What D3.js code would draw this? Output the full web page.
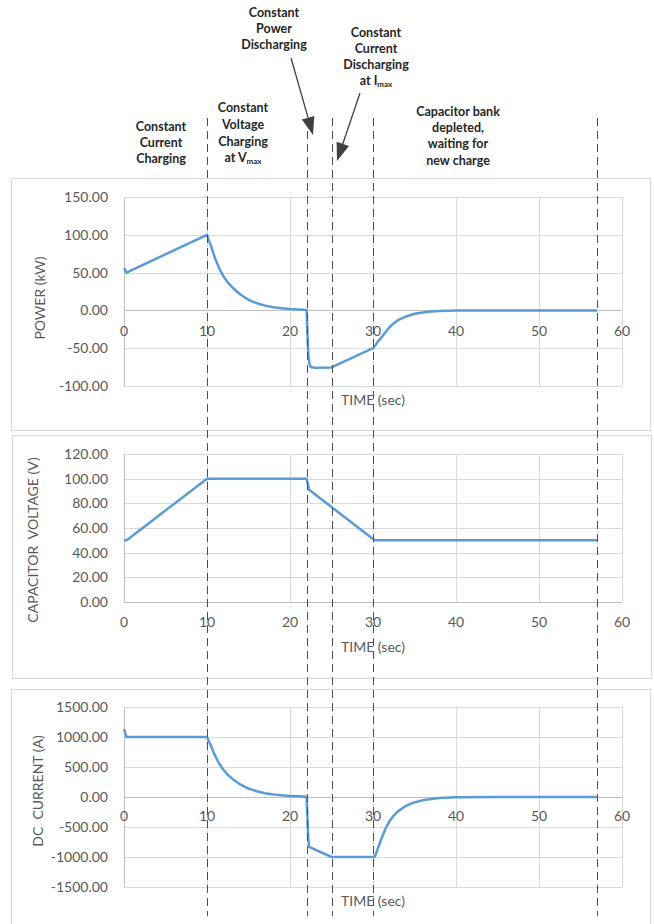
<!DOCTYPE html>
<html><head><meta charset="utf-8">
<script src="https://cdn.jsdelivr.net/npm/d3@7"></script>
<style>
html,body{margin:0;padding:0;background:#fff;}
svg{display:block;font-family:Lato,"Open Sans",sans-serif;}
</style></head>
<body>
<svg id="c" width="654" height="924"></svg>
<script>
// ---- data ----
const xTicks = [0,10,20,30,40,50,60];
const phaseTimes = [10,22,25,30,57];

const powerT = [0,0.3,10,10.25,10.5,10.75,11,11.5,12,12.5,13,14,15,16,17,18,19,20,21,22,22.1,22.2,22.35,22.5,23,25,30,30.3,30.6,31,31.5,32,32.5,33,34,35,36,37,38,40,45,57];
const powerV = [56,50,100,92,85,76,68,55,45,37,31,21,14,9.5,6.3,4.2,2.8,1.8,1.1,0.6,-30,-58,-71,-75,-76,-75.5,-50,-46,-41,-36,-29,-22,-17,-13,-8,-4.5,-2.7,-1.5,-0.8,-0.2,0,0];
const powerTicks = [-100,-50,0,50,100,150];

const voltT = [0,0.4,10,22,22.3,30.2,57];
const voltV = [49.5,50.5,100,100,91,50,50];
const voltTicks = [0,20,40,60,80,100,120];

const currT = [0,0.3,10,10.25,10.5,10.75,11,11.5,12,12.5,13,14,15,16,17,18,19,20,21,22,22.1,22.2,22.3,25,30.2,30.4,30.6,31,31.5,32,32.5,33,34,35,36,37,38,40,45,57];
const currV = [1130,1000,1000,920,850,760,680,550,450,370,310,210,140,95,63,42,28,18,11,6,-350,-700,-830,-1000,-1000,-930,-850,-700,-530,-400,-310,-240,-145,-90,-55,-32,-18,-6,-1,0];
const currTicks = [-1500,-1000,-500,0,500,1000,1500];

const yTitles = ["POWER (kW)","CAPACITOR  VOLTAGE (V)","DC  CURRENT (A)"];
const xTitle = "TIME (sec)";

// ---- layout ----
const svg = d3.select("#c");
const panels = [
  {t:powerT, v:powerV, ticks:powerTicks, title:yTitles[0], box:[11,178,639,252], top:197, bot:386, xlab:336, xt:405, ytx:45, yty:298},
  {t:voltT, v:voltV, ticks:voltTicks, title:yTitles[1], box:[12,435,639,243], top:454, bot:602, xlab:627, xt:652, ytx:38, yty:540},
  {t:currT, v:currV, ticks:currTicks, title:yTitles[2], box:[11,689,639,250], top:707, bot:887, xlab:821, xt:906, ytx:43, yty:791}
];
const x = d3.scaleLinear().domain([0,60]).range([124,622]);
const fmt = d => d3.format(".2f")(d).replace("\u2212","-");

panels.forEach(p=>{
  const g = svg.append("g");
  g.append("rect").attr("x",p.box[0]+0.5).attr("y",p.box[1]+0.5).attr("width",p.box[2]).attr("height",p.box[3])
    .attr("fill","#fff").attr("stroke","#d9d9d9").attr("stroke-width",1);
  const ext = d3.extent(p.ticks);
  const y = d3.scaleLinear().domain(ext).range([p.bot,p.top]);
  g.selectAll(".hg").data(p.ticks).join("line")
    .attr("x1",x(0)).attr("x2",x(60)).attr("y1",d=>Math.round(y(d))+0.5).attr("y2",d=>Math.round(y(d))+0.5)
    .attr("stroke",d=>d===0?"#bfbfbf":"#d9d9d9").attr("stroke-width",1);
  g.selectAll(".vg").data(xTicks).join("line")
    .attr("x1",d=>Math.round(x(d))+0.5).attr("x2",d=>Math.round(x(d))+0.5).attr("y1",p.top).attr("y2",p.bot)
    .attr("stroke",d=>d===0?"#bfbfbf":"#d9d9d9").attr("stroke-width",1);
  g.selectAll(".yl").data(p.ticks).join("text")
    .attr("x",108).attr("y",d=>y(d)+5).attr("text-anchor","end")
    .attr("font-size",14).attr("fill","#595959").text(fmt);
  g.selectAll(".xl").data(xTicks).join("text")
    .attr("x",d=>x(d)).attr("y",p.xlab).attr("text-anchor","middle")
    .attr("font-size",14).attr("fill","#595959").text(d=>d);
  g.append("text").attr("x",373).attr("y",p.xt).attr("text-anchor","middle")
    .attr("font-size",14).attr("fill","#595959").text(xTitle);
  g.append("text").attr("transform",`translate(${p.ytx},${p.yty}) rotate(-90)`).attr("text-anchor","middle")
    .attr("font-size",14).attr("fill","#595959").style("white-space","pre").text(p.title);
  const pts = p.t.map((t,i)=>[t,p.v[i]]);
  g.append("path").datum(pts)
    .attr("d",d3.line().x(d=>x(d[0])).y(d=>y(d[1])).curve(d3.curveLinear))
    .attr("fill","none").attr("stroke","#5b9bd5").attr("stroke-width",2.5).attr("stroke-linejoin","round");
});

svg.selectAll(".ph").data(phaseTimes).join("line")
  .attr("x1",d=>Math.round(x(d))+0.5).attr("x2",d=>Math.round(x(d))+0.5).attr("y1",118).attr("y2",916)
  .attr("stroke","#4d4d4d").attr("stroke-width",1).attr("stroke-dasharray","8,5");

const notes = [
  {x:161, y:[131,147,163], lines:["Constant","Current","Charging"]},
  {x:243, y:[112,129,146,162], lines:["Constant","Voltage","Charging","at V|max"]},
  {x:274, y:[17,33,49], lines:["Constant","Power","Discharging"]},
  {x:376, y:[37,53,69,85], lines:["Constant","Current","Discharging","at I|max"]},
  {x:458, y:[116,132,148,165], lines:["Capacitor bank","depleted,","waiting for","new charge"]}
];
notes.forEach(n=>{
  n.lines.forEach((ln,i)=>{
    const t = svg.append("text").attr("x",n.x).attr("y",n.y[i]).attr("text-anchor","middle")
      .attr("font-size",12.5).attr("font-weight","bold").attr("fill","#262626");
    if(ln.includes("|")){
      const [a,b]=ln.split("|");
      t.append("tspan").text(a);
      t.append("tspan").attr("font-size",8).attr("dy",2).text(b);
    } else t.text(ln);
  });
});

const arrows = [[[291,58],[313,135]],[[360,93],[337,161]]];
arrows.forEach(([s,e])=>{
  const dx=e[0]-s[0], dy=e[1]-s[1], L=Math.hypot(dx,dy), ux=dx/L, uy=dy/L;
  const hl=18, hw=6.5;
  const bx=e[0]-ux*hl, by=e[1]-uy*hl;
  svg.append("line").attr("x1",s[0]).attr("y1",s[1]).attr("x2",bx).attr("y2",by)
    .attr("stroke","#404040").attr("stroke-width",1.3);
  svg.append("path").attr("d",`M${e[0]},${e[1]}L${bx-uy*hw},${by+ux*hw}L${bx+uy*hw},${by-ux*hw}Z`)
    .attr("fill","#404040");
});
</script>
</body></html>
